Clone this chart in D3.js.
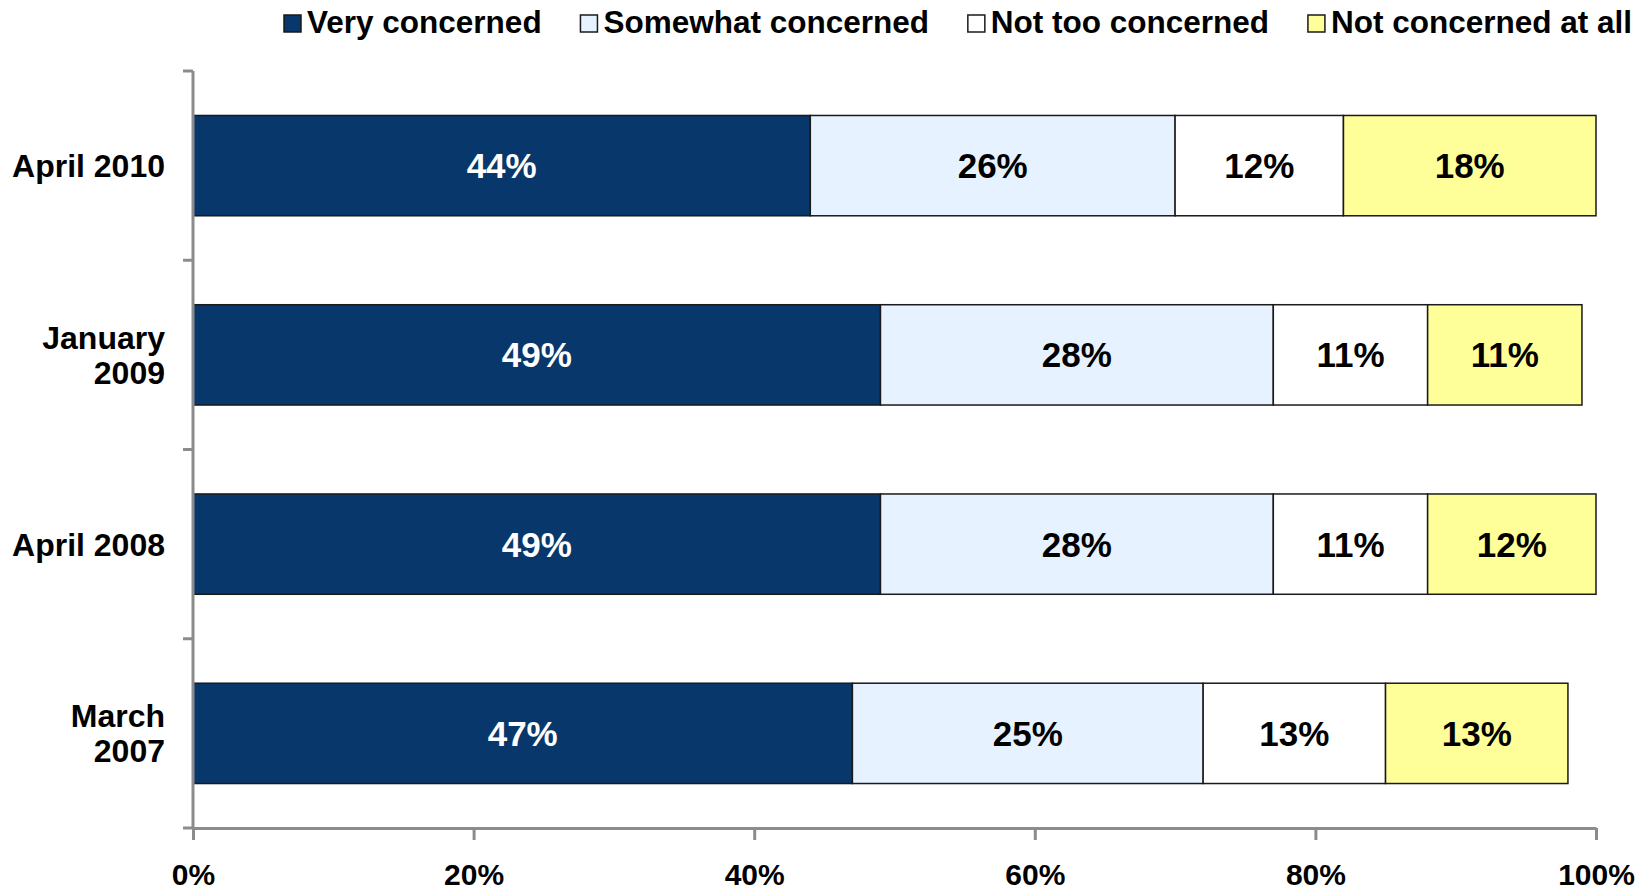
<!DOCTYPE html>
<html>
<head>
<meta charset="utf-8">
<script src="https://cdn.jsdelivr.net/npm/d3@7/dist/d3.min.js"></script>
<style>
  html, body { margin: 0; padding: 0; background: #ffffff; }
  svg { display: block; }
  text { font-family: "Liberation Sans", Arial, Helvetica, sans-serif; font-weight: bold; }
</style>
</head>
<body>
<svg id="chart" width="1647" height="891"></svg>
<script>
// Survey waves, top to bottom (a "\n" breaks the axis label onto two lines)
const categories = ["April 2010", "January\n2009", "April 2008", "March\n2007"];

// Response series
const seriesNames = ["Very concerned", "Somewhat concerned", "Not too concerned", "Not concerned at all"];
const seriesColors = ["#08376b", "#e6f2ff", "#ffffff", "#ffff99"];
const labelColors = ["#ffffff", "#000000", "#000000", "#000000"];

// Percent values per wave, one array per series
const veryConcerned     = [44, 49, 49, 47];
const somewhatConcerned = [26, 28, 28, 25];
const notTooConcerned   = [12, 11, 11, 13];
const notConcernedAtAll = [18, 11, 12, 13];

// Axis tick values
const xTicks = [0, 20, 40, 60, 80, 100];

const seriesValues = [veryConcerned, somewhatConcerned, notTooConcerned, notConcernedAtAll];

const svg = d3.select("#chart");
const W = 1647, H = 891;
const margin = { top: 71, right: 51, bottom: 63, left: 193 };
const innerW = W - margin.left - margin.right;
const innerH = H - margin.top - margin.bottom;

const g = svg.append("g").attr("transform", `translate(${margin.left},${margin.top})`);

const x = d3.scaleLinear().domain([0, 100]).range([0, innerW]);
const y = d3.scaleBand().domain(categories).range([0, innerH])
  .paddingInner(0.47).paddingOuter(0.235);

// Stack the series for each wave
const rows = categories.map((c, i) => {
  const r = { category: c };
  seriesNames.forEach((s, j) => { r[s] = seriesValues[j][i]; });
  return r;
});
const stacked = d3.stack().keys(seriesNames)(rows);

const axisColor = "#8c8c8c";

// Bars
const layers = g.selectAll("g.layer").data(stacked).join("g")
  .attr("class", "layer")
  .attr("fill", (d, i) => seriesColors[i]);

layers.selectAll("rect").data(d => d).join("rect")
  .attr("x", d => x(d[0]))
  .attr("y", d => y(d.data.category))
  .attr("width", d => x(d[1]) - x(d[0]))
  .attr("height", y.bandwidth())
  .attr("stroke", "#1a1a1a")
  .attr("stroke-width", 1.5);

// Value labels centred in each segment
layers.each(function (layer, i) {
  d3.select(this).selectAll("text").data(layer).join("text")
    .attr("x", d => (x(d[0]) + x(d[1])) / 2)
    .attr("y", d => y(d.data.category) + y.bandwidth() / 2)
    .attr("dy", "0.36em")
    .attr("text-anchor", "middle")
    .attr("font-size", 35)
    .attr("fill", labelColors[i])
    .text(d => `${d[1] - d[0]}%`);
});

// X axis
const xAxis = g.append("g")
  .attr("transform", `translate(0,${innerH})`)
  .call(d3.axisBottom(x).tickValues(xTicks).tickFormat(d => d + "%")
    .tickSize(12).tickSizeOuter(0).tickPadding(24));
xAxis.select(".domain").attr("stroke", axisColor).attr("stroke-width", 3);
xAxis.selectAll(".tick line").attr("stroke", axisColor).attr("stroke-width", 3);
xAxis.selectAll(".tick text").attr("font-size", 30).attr("fill", "#000")
  .style("font-family", "'Liberation Sans', Arial, sans-serif").style("font-weight", "bold");

// Y axis: vertical line with ticks at band boundaries
const yAxis = g.append("g");
yAxis.append("line")
  .attr("x1", 0).attr("x2", 0).attr("y1", 0).attr("y2", innerH)
  .attr("stroke", axisColor).attr("stroke-width", 3);
const boundaries = d3.range(categories.length + 1).map(i => i * y.step());
yAxis.selectAll("line.tick").data(boundaries).join("line")
  .attr("class", "tick")
  .attr("x1", -10).attr("x2", 0)
  .attr("y1", d => d).attr("y2", d => d)
  .attr("stroke", axisColor).attr("stroke-width", 3);

// Category labels
const catG = g.append("g");
categories.forEach(c => {
  const lines = c.split("\n");
  const cy = y(c) + y.bandwidth() / 2;
  const lh = 35;
  const t = catG.append("text")
    .attr("text-anchor", "end")
    .attr("font-size", 32)
    .attr("fill", "#000");
  lines.forEach((ln, k) => {
    t.append("tspan")
      .attr("x", -28)
      .attr("y", cy + (k - (lines.length - 1) / 2) * lh)
      .attr("dy", "0.36em")
      .text(ln);
  });
});

// Legend across the top, spread between a left and a right edge
const legendLeft = 284, legendRight = 1632;
const legend = svg.append("g");
const items = seriesNames.map((s, i) => {
  const item = legend.append("g");
  item.append("rect")
    .attr("x", 0).attr("y", 15).attr("width", 17).attr("height", 17)
    .attr("fill", seriesColors[i]).attr("stroke", "#1a1a1a").attr("stroke-width", 1.5);
  const txt = item.append("text")
    .attr("x", 23).attr("y", 33)
    .attr("font-size", 31.5)
    .attr("fill", "#000")
    .text(s);
  return { item, w: 23 + txt.node().getComputedTextLength() };
});
const totalW = d3.sum(items, d => d.w);
const gap = (legendRight - legendLeft - totalW) / (items.length - 1);
let lx = legendLeft;
items.forEach(d => {
  d.item.attr("transform", `translate(${lx},0)`);
  lx += d.w + gap;
});
</script>
</body>
</html>
